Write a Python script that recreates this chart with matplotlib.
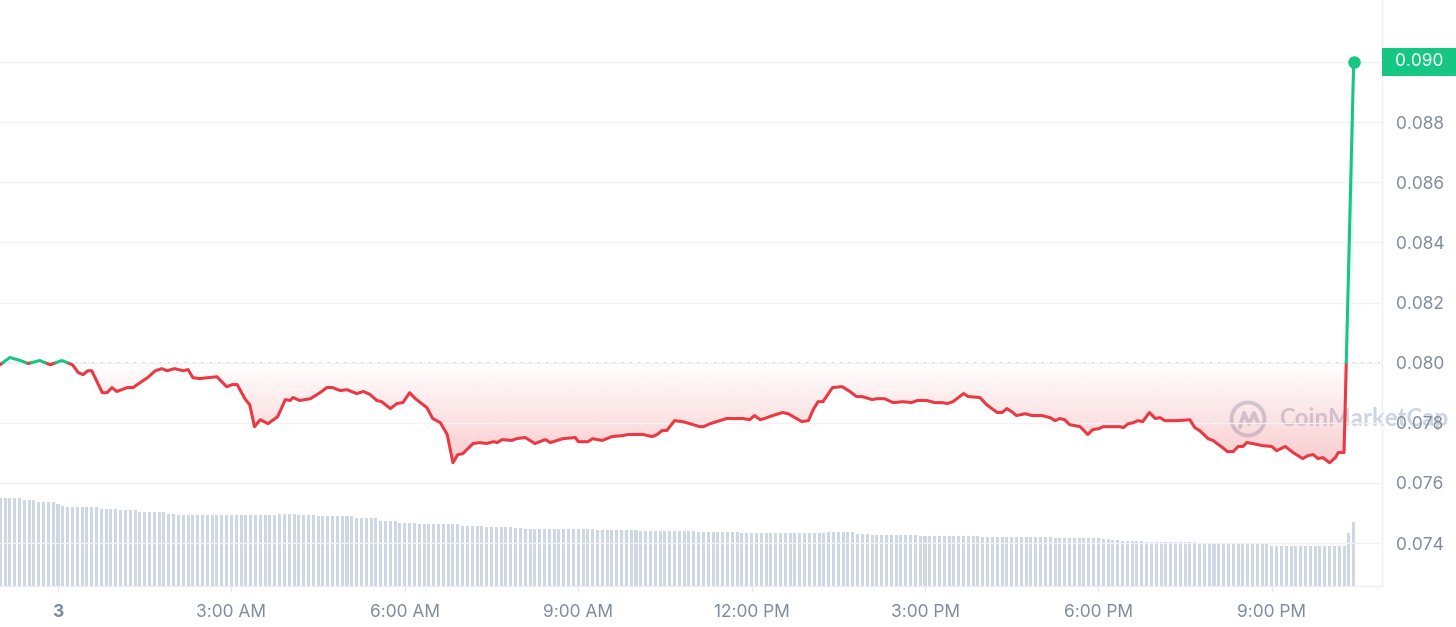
import numpy as np
import matplotlib
matplotlib.use("Agg")
import matplotlib.pyplot as plt
from matplotlib.path import Path
from matplotlib.patches import Rectangle, Ellipse
from matplotlib.lines import Line2D
import matplotlib.transforms as mtransforms

plt.rcParams['font.family'] = ['Inter', 'DejaVu Sans']

# price samples: minutes after midnight of the 3rd, price in USD
price_min = [-60, -50, -39, -31, -19, -8, 4, 15, 21, 26, 31, 35, 46, 51, 56, 61, 72, 78, 85, 93,
             101, 108, 113, 121, 130, 135, 140, 147, 165, 175, 181, 186, 194, 199, 204, 210, 218, 228, 236, 241,
             244, 251, 262, 272, 279, 285, 293, 300, 310, 317, 324, 331, 336, 345, 352, 358, 365, 371, 383, 389,
             397, 404, 410, 415, 420, 431, 438,
             445, 452, 456, 461, 471, 476, 485, 495, 506, 511, 524, 537, 540, 550, 555, 565, 575, 586, 592, 607,
             617, 622, 627, 632, 640, 648, 656, 666, 670, 677, 684, 694, 711, 718, 723, 729, 736, 742, 752, 758,
             772, 779, 784, 789, 794, 804, 814, 822, 829, 835, 845, 850, 858, 867, 877, 886, 892, 902, 910, 918,
             923, 929, 936,
             940, 945, 957, 964, 975, 980, 985, 990, 995, 1004, 1011, 1021, 1030, 1035, 1040, 1045, 1050, 1061, 1069, 1074,
             1080, 1085, 1092, 1102, 1106, 1111, 1116, 1121, 1126, 1133, 1139, 1144, 1149, 1162, 1175, 1180, 1185, 1194, 1199, 1209,
             1214, 1220, 1225, 1230, 1234, 1240, 1250, 1260, 1265, 1274, 1282, 1292, 1298, 1303, 1308, 1313, 1320, 1326, 1329, 1335,
             1345]
price = [0.07993, 0.08017, 0.08007, 0.07997, 0.08007, 0.07993, 0.08007, 0.07993, 0.07967, 0.07960,
         0.07973, 0.07973, 0.07900, 0.07900, 0.07917, 0.07904, 0.07917, 0.07917, 0.07933, 0.07950,
         0.07973, 0.07980, 0.07973, 0.07980, 0.07973, 0.07977, 0.07950, 0.07947, 0.07953, 0.07920,
         0.07927, 0.07927, 0.07880, 0.07860, 0.07787, 0.07810, 0.07797, 0.07820, 0.07877, 0.07874,
         0.07884, 0.07874, 0.07880, 0.07900, 0.07917, 0.07917, 0.07907, 0.07910, 0.07897, 0.07904,
         0.07894, 0.07874, 0.07870, 0.07847, 0.07864, 0.07867, 0.07900, 0.07880, 0.07850, 0.07814,
         0.07800, 0.07761, 0.07667, 0.07694, 0.07697, 0.07731, 0.07734,
         0.07731, 0.07737, 0.07734, 0.07744, 0.07741, 0.07747, 0.07751, 0.07731, 0.07744, 0.07734,
         0.07747, 0.07751, 0.07737, 0.07737, 0.07747, 0.07741, 0.07754, 0.07757, 0.07761, 0.07761,
         0.07754, 0.07761, 0.07774, 0.07774, 0.07807, 0.07804, 0.07797, 0.07787, 0.07787, 0.07797,
         0.07804, 0.07814, 0.07814, 0.07810, 0.07824, 0.07810, 0.07817, 0.07824, 0.07834, 0.07830,
         0.07804, 0.07807, 0.07844, 0.07870, 0.07870, 0.07917, 0.07920, 0.07904, 0.07887, 0.07887,
         0.07877, 0.07880, 0.07880, 0.07867, 0.07870, 0.07867, 0.07874, 0.07874, 0.07867, 0.07867,
         0.07864, 0.07870, 0.07887,
         0.07897, 0.07887, 0.07884, 0.07860, 0.07834, 0.07834, 0.07847, 0.07837, 0.07824, 0.07830,
         0.07824, 0.07824, 0.07817, 0.07807, 0.07814, 0.07810, 0.07794, 0.07787, 0.07761, 0.07777,
         0.07780, 0.07787, 0.07787, 0.07787, 0.07784, 0.07797, 0.07800, 0.07807, 0.07804, 0.07834,
         0.07814, 0.07817, 0.07807, 0.07807, 0.07810, 0.07784, 0.07774, 0.07747, 0.07741, 0.07717,
         0.07704, 0.07704, 0.07721, 0.07721, 0.07734, 0.07731, 0.07724, 0.07721, 0.07707, 0.07721,
         0.07701, 0.07681, 0.07691, 0.07694, 0.07681, 0.07684, 0.07667, 0.07684, 0.07701, 0.07701,
         0.0900]
open_price = 0.0800

# volume bars every 5 minutes from 23:00 on the 2nd (millions)
volume = [8.8, 8.8, 8.8, 8.8, 8.8, 8.6, 8.6, 8.6, 8.4, 8.4, 8.4, 8.4, 8.2, 8.0, 7.9, 7.9, 7.9, 7.9, 7.9, 7.9, 7.9,
          7.75, 7.75, 7.75, 7.75, 7.6, 7.6, 7.6, 7.6, 7.4, 7.4, 7.4, 7.4, 7.4, 7.4, 7.2, 7.2,
          7.1, 7.1, 7.1, 7.1, 7.1, 7.1, 7.1, 7.1, 7.1, 7.1, 7.1, 7.1, 7.1, 7.1, 7.1, 7.1,
          7.1, 7.1, 7.1, 7.1, 7.1, 7.2, 7.2, 7.2, 7.2, 7.1, 7.1, 7.1, 7.1,
          7.0, 7.0, 7.0, 7.0, 7.0, 7.0, 7.0, 7.0,
          6.8, 6.8, 6.8, 6.8, 6.8, 6.5, 6.5, 6.5, 6.5, 6.35, 6.35, 6.35, 6.35,
          6.25, 6.25, 6.25, 6.25, 6.25, 6.25, 6.25, 6.25, 6.25, 6.05, 6.05, 6.05, 6.05, 6.05,
          5.9, 5.9, 5.9, 5.9, 5.9, 5.9, 5.8, 5.8,
          5.73, 5.73, 5.73, 5.73, 5.73, 5.73, 5.73, 5.73, 5.73, 5.67, 5.67, 5.67, 5.67, 5.67, 5.67,
          5.6, 5.6, 5.6, 5.6, 5.6, 5.6, 5.6, 5.6, 5.6,
          5.53, 5.53, 5.53, 5.53, 5.53, 5.53, 5.53, 5.53, 5.53, 5.53, 5.53, 5.53,
          5.43, 5.43, 5.43, 5.43, 5.43, 5.37, 5.37, 5.37, 5.37,
          5.3, 5.3, 5.3, 5.3, 5.3, 5.3, 5.3, 5.3, 5.3, 5.3, 5.3, 5.3, 5.3, 5.3, 5.3, 5.3, 5.3, 5.3,
          5.37, 5.37, 5.37, 5.37, 5.37, 5.37, 5.17, 5.17, 5.17,
          5.1, 5.1, 5.1, 5.1, 5.1, 5.1, 5.1, 5.1, 5.1, 5.1,
          5.0, 5.0, 5.0, 5.0, 5.0, 5.0, 5.0, 5.0, 5.0, 5.0, 5.0, 5.0, 5.0,
          4.93, 4.93, 4.93, 4.93, 4.93, 4.93, 4.93, 4.93, 4.93, 4.93, 4.93, 4.93, 4.93,
          4.87, 4.87, 4.8, 4.8, 4.8, 4.8, 4.8, 4.8, 4.8, 4.8, 4.8, 4.8,
          4.7, 4.7, 4.6, 4.6, 4.5, 4.5, 4.5, 4.5, 4.5,
          4.4, 4.4, 4.4, 4.4, 4.4, 4.4, 4.4, 4.4, 4.4, 4.4, 4.4,
          4.3, 4.3, 4.3, 4.3, 4.3, 4.3, 4.3, 4.3, 4.3, 4.3, 4.3, 4.3, 4.3, 4.3, 4.3,
          4.05, 4.05, 4.05, 4.05, 4.05, 4.05, 4.05, 4.05, 4.05, 4.05, 4.05, 4.05, 4.05, 4.05, 4.05, 4.05,
          5.3, 6.4]
vol_start_min = -60
vol_step_min = 5

tick_hours = [0, 3, 6, 9, 12, 15, 18, 21]
tick_labels = ['3', '3:00 AM', '6:00 AM', '9:00 AM', '12:00 PM', '3:00 PM', '6:00 PM', '9:00 PM']
price_ticks = [0.074, 0.076, 0.078, 0.080, 0.082, 0.084, 0.086, 0.088, 0.090]

RED = '#ea3943'
GREEN = '#16c784'
GREY_TXT = '#808a9d'

# add crossing points so the line can switch colour at the open price
t = np.array(price_min) / 60.0
p = np.array(price)
tx, px = [], []
for i in range(len(p) - 1):
    tx.append(t[i]); px.append(p[i])
    if (p[i] - open_price) * (p[i + 1] - open_price) < 0:
        f = (open_price - p[i]) / (p[i + 1] - p[i])
        tx.append(t[i] + f * (t[i + 1] - t[i])); px.append(open_price)
tx.append(t[-1]); px.append(p[-1])
tx = np.array(tx); px = np.array(px)

fig = plt.figure(figsize=(14.56, 6.27), dpi=100)
fig.patch.set_facecolor('white')
rect = [0, 41 / 627, 1382 / 1456, 586 / 627]
axv = fig.add_axes(rect)
ax = fig.add_axes(rect)
axv.patch.set_visible(False)
ax.patch.set_visible(False)

xlim = (-58 / 57.8, 1324 / 57.8)
ylim = (0.07257, 0.092062)

# volume
vt = (vol_start_min + vol_step_min * np.arange(len(volume))) / 60.0
axv.bar(vt, volume, width=0.052, color='#cfd6e4', linewidth=0)
axv.set_ylim(0, 58.6)
axv.set_xlim(*xlim)
axv.axis('off')

# price
ax.grid(axis='y', color='#f1f2f5', lw=1, zorder=0)
ax.axhline(open_price, color='#a6acba', lw=1.1, ls=(0, (1, 4.5)), zorder=1)

for cond, col, a0, a1, lo, hi in [(px <= open_price, RED, 0.26, 0.0, px.min(), open_price),
                                  (px >= open_price, GREEN, 0.0, 0.2, open_price, px.max())]:
    coll = ax.fill_between(tx, px, open_price, where=cond, interpolate=True,
                           facecolor='none', edgecolor='none')
    clip = Path.make_compound_path(*coll.get_paths())
    grad = np.zeros((256, 1, 4))
    grad[..., :3] = matplotlib.colors.to_rgb(col)
    grad[:, 0, 3] = np.linspace(a0, a1, 256)
    im = ax.imshow(grad, extent=[tx.min(), tx.max(), lo, hi], origin='lower',
                   aspect='auto', interpolation='bilinear', zorder=1.5)
    im.set_clip_path(clip, transform=ax.transData)

ax.plot(tx, np.where(px <= open_price, px, np.nan), color=RED, lw=2.2, zorder=3,
        solid_joinstyle='round', solid_capstyle='round')
ax.plot(tx, np.where(px >= open_price, px, np.nan), color=GREEN, lw=2.2, zorder=3,
        solid_joinstyle='round', solid_capstyle='round')
ax.plot(t[-1], p[-1], 'o', color=GREEN, ms=8, zorder=4)

ax.set_xlim(*xlim)
ax.set_ylim(*ylim)

ax.set_xticks(tick_hours)
ax.set_xticklabels(tick_labels)
ax.get_xticklabels()[0].set_fontweight('bold')
ax.set_yticks(price_ticks)
ax.set_yticklabels(['%.3f' % v for v in price_ticks])
ax.yaxis.tick_right()
ax.tick_params(axis='x', length=4, color='#e3e6eb', labelcolor=GREY_TXT, labelsize=12.5, pad=9)
ax.tick_params(axis='y', length=0, labelcolor=GREY_TXT, labelsize=12.5, pad=10)
for s in ['top', 'left']:
    ax.spines[s].set_visible(False)
for s in ['bottom', 'right']:
    ax.spines[s].set_color('#eceef2')
    ax.spines[s].set_linewidth(1)

# current price tag
blend = mtransforms.blended_transform_factory(ax.transAxes, ax.transData)
dpp = (ylim[1] - ylim[0]) / 586.0
tag_w = 74 / 1382
ax.add_patch(Rectangle((1.0, p[-1] - 14 * dpp), tag_w, 28 * dpp, transform=blend,
                       facecolor=GREEN, edgecolor='none', clip_on=False, zorder=5))
ax.text(1.0 + tag_w / 2, p[-1], '%.3f' % p[-1], transform=blend, ha='center', va='center',
        color='white', fontsize=12.5, zorder=6, clip_on=False)

# watermark
wc = '#cdd5e3'
cx, cy = 1248 / 1456, 1 - 419 / 627
fig.add_artist(Ellipse((cx, cy), 33 / 1456, 33 / 627, fill=False, lw=2.8, ec=wc,
                       transform=fig.transFigure, zorder=-1))
mx = [-8, -4, 1, 6, 10]
my = [-8, 6, -5, 6, -4]
fig.add_artist(Line2D([cx + d / 1456 for d in mx], [cy + d / 627 for d in my], color=wc, lw=2.8,
                      solid_joinstyle='round', solid_capstyle='round', transform=fig.transFigure, zorder=-1))
fig.text(1279 / 1456, cy, 'CoinMarketCap', ha='left', va='center', fontsize=17.3, fontweight='bold',
         family=['Lato', 'DejaVu Sans'], color=wc, zorder=-1)

fig.savefig('out.png', dpi=100, facecolor='white')
